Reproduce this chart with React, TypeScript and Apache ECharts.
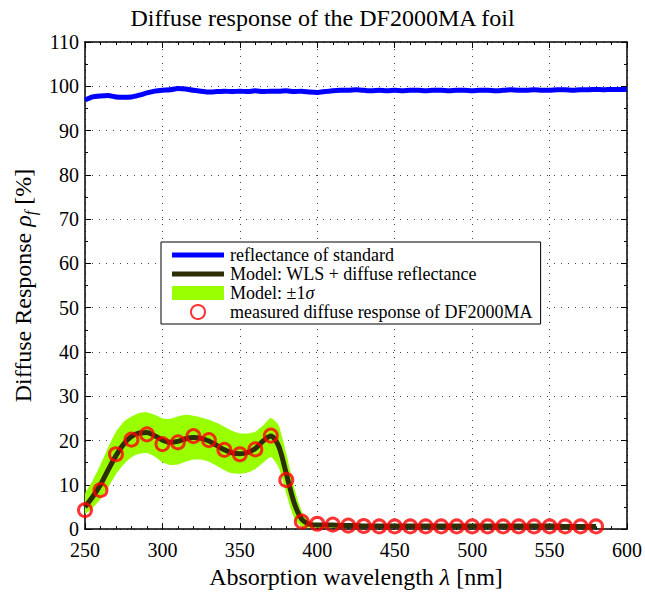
import React, { useEffect, useRef } from "react";
import * as echarts from "echarts";

// ---------- data ----------
const titleText = "Diffuse response of the DF2000MA foil";

const xMin = 250;
const xMax = 600;
const xStep = 50;
const yMin = 0;
const yMax = 110;
const yStep = 10;

// reflectance of the standard (blue)
const stdWavelength = [
  250, 255, 260, 265, 270, 275, 280, 285, 290, 295, 300, 305, 310, 315, 320, 325, 330, 335,
  340, 345, 350, 355, 360, 365, 370, 375, 380, 385, 390, 395, 400, 405, 410, 415, 420, 425,
  430, 435, 440, 445, 450, 455, 460, 465, 470, 475, 480, 485, 490, 495, 500, 505, 510, 515,
  520, 525, 530, 535, 540, 545, 550, 555, 560, 565, 570, 575, 580, 585, 590, 595, 600,
];
const stdReflectance = [
  96.9, 97.6, 97.8, 97.9, 97.6, 97.5, 97.6, 98.0, 98.5, 98.9, 99.1, 99.2, 99.5, 99.4, 99.1, 98.9, 98.7, 98.8,
  98.9, 98.8, 98.9, 98.8, 99.0, 98.8, 98.9, 98.9, 99.0, 98.8, 98.9, 98.7, 98.6, 98.8, 99.0, 99.1, 99.1, 99.2,
  99.1, 99.0, 99.1, 99.0, 99.1, 99.0, 99.1, 99.1, 99.0, 99.1, 99.1, 99.0, 99.1, 99.1, 99.0, 99.1, 99.1, 99.0,
  99.1, 99.2, 99.1, 99.1, 99.2, 99.1, 99.1, 99.2, 99.2, 99.1, 99.2, 99.2, 99.3, 99.2, 99.3, 99.3, 99.3,
];

// model: WLS + diffuse reflectance, with its +-1 sigma band
const modelWavelength = [
  250, 255, 260, 265, 270, 275, 280, 285, 290, 295, 300, 305, 310, 315, 320, 325, 330, 335,
  340, 345, 350, 355, 360, 365, 370, 375, 380, 385, 390, 395, 400, 405, 410, 415, 420, 425,
  430, 435, 440, 445, 450, 455, 460, 465, 470, 475, 480, 485, 490, 495, 500, 505, 510, 515,
  520, 525, 530, 535, 540, 545, 550, 555, 560, 565, 570, 575, 580,
];
const modelValues = [
  5.0, 7.3, 10.0, 13.4, 16.6, 19.2, 20.9, 21.7, 21.8, 21.1, 20.1, 19.6, 19.8, 20.4, 20.7, 20.5, 19.9, 18.9,
  17.9, 17.2, 17.0, 17.3, 18.2, 19.9, 21.0, 18.8, 12.5, 6.0, 2.2, 1.1, 0.9, 0.9, 0.9, 0.8, 0.8, 0.8,
  0.7, 0.7, 0.7, 0.7, 0.7, 0.7, 0.7, 0.7, 0.7, 0.7, 0.7, 0.7, 0.7, 0.7, 0.7, 0.7, 0.7, 0.7,
  0.7, 0.7, 0.7, 0.7, 0.7, 0.7, 0.7, 0.7, 0.6, 0.6, 0.6, 0.6, 0.6,
];
const bandUpper = [
  7.9, 11.0, 14.6, 18.5, 22.0, 24.2, 25.4, 26.2, 26.4, 25.8, 25.0, 24.9, 25.4, 25.8, 25.6, 25.2, 24.7, 24.0,
  23.1, 22.2, 21.6, 21.6, 22.0, 23.4, 25.1, 23.5, 17.0, 9.5, 4.0, 1.8, 1.4, 1.3, 1.2, 1.2, 1.1, 1.1,
  1.1, 1.1, 1.0, 1.0, 1.0, 1.0, 1.0, 1.0, 1.0, 1.0, 1.0, 1.0, 1.0, 1.0, 1.0, 1.0, 1.0, 1.0,
  1.0, 1.0, 1.0, 1.0, 1.0, 1.0, 1.0, 1.0, 0.9, 0.9, 0.9, 0.9, 0.9,
];
const bandLower = [
  3.5, 4.8, 6.8, 9.4, 12.4, 14.6, 16.2, 17.0, 17.2, 16.4, 15.1, 14.5, 14.6, 15.2, 15.7, 15.7, 15.2, 14.3,
  13.3, 12.6, 12.5, 12.8, 13.6, 15.0, 16.3, 14.0, 8.0, 2.5, 0.5, 0.3, 0.3, 0.3, 0.3, 0.3, 0.3, 0.3,
  0.3, 0.3, 0.3, 0.3, 0.3, 0.3, 0.3, 0.3, 0.3, 0.3, 0.3, 0.3, 0.3, 0.3, 0.3, 0.3, 0.3, 0.3,
  0.3, 0.3, 0.3, 0.3, 0.3, 0.3, 0.3, 0.3, 0.3, 0.3, 0.3, 0.3, 0.3,
];

// measured diffuse response of DF2000MA (red circles)
const measWavelength = [
  250, 260, 270, 280, 290, 300, 310, 320, 330, 340, 350, 360, 370, 380, 390, 400, 410,
  420, 430, 440, 450, 460, 470, 480, 490, 500, 510, 520, 530, 540, 550, 560, 570, 580,
];
const measValues = [
  4.3, 8.8, 16.9, 20.2, 21.4, 19.2, 19.6, 21.0, 20.1, 17.9, 16.9, 18.0, 21.1, 11.1, 1.7, 1.2, 1.0,
  0.8, 0.7, 0.6, 0.6, 0.6, 0.6, 0.6, 0.6, 0.6, 0.6, 0.6, 0.6, 0.6, 0.6, 0.6, 0.6, 0.6,
];

const seriesNames = [
  "reflectance of standard",
  "Model: WLS + diffuse reflectance",
  "Model: ±1σ",
  "measured diffuse response of DF2000MA",
];

const colors = {
  std: "#0000ff",
  model: "#2e2e06",
  band: "#99ff00",
  meas: "#ff0000",
};

const FONT = "'Liberation Serif', 'Times New Roman', serif";

function pairs(xs: number[], ys: number[]) {
  return xs.map((x, i) => [x, ys[i]]);
}

export default function App() {
  const ref = useRef<HTMLDivElement>(null);

  useEffect(() => {
    if (!ref.current) return;
    const chart = echarts.init(ref.current, null, { renderer: "svg" });

    const gridDots = { color: "#444", width: 1, type: [1, 6] as any };

    const baseX = {
      type: "value" as const,
      min: xMin,
      max: xMax,
      interval: xStep,
    };
    const baseY = {
      type: "value" as const,
      min: yMin,
      max: yMax,
      interval: yStep,
    };

    const option: any = {
      animation: false,
      backgroundColor: "#ffffff",
      title: {
        text: titleText,
        left: "center",
        top: 1,
        textStyle: { fontFamily: FONT, fontSize: 24, fontWeight: "normal", color: "#000" },
      },
      grid: { left: 83, right: 16, top: 42, bottom: 63 },
      legend: {
        orient: "vertical",
        left: 161,
        top: 242,
        data: [
          { name: seriesNames[0], icon: "path://M0,0H52V5H0Z", itemStyle: { color: colors.std, borderWidth: 0 } },
          { name: seriesNames[1], icon: "path://M0,0H52V5H0Z", itemStyle: { color: colors.model, borderWidth: 0 } },
          { name: seriesNames[2], icon: "rect", itemStyle: { color: colors.band, borderWidth: 0 } },
          { name: seriesNames[3], icon: "emptyCircle", itemStyle: { color: colors.meas } },
        ],
        itemWidth: 52,
        itemHeight: 14,
        itemGap: 1,
        padding: [4, 8, 3, 11],
        borderColor: "#000",
        borderWidth: 1,
        backgroundColor: "#fff",
        selectedMode: false,
        textStyle: {
          fontFamily: FONT,
          fontSize: 18,
          color: "#000",
          padding: [0, 0, 0, 1],
          rich: {
            i: { fontFamily: FONT, fontSize: 18, fontStyle: "italic", color: "#000" },
          },
        },
        formatter: (name: string) =>
          name === seriesNames[2] ? "Model: ±1{i|σ}" : name,
      },
      xAxis: [
        {
          ...baseX,
          position: "bottom",
          name: "Absorption wavelength {i|λ} [nm]",
          nameLocation: "middle",
          nameGap: 29,
          nameTextStyle: {
            fontFamily: FONT,
            fontSize: 24,
            color: "#000",
            rich: { i: { fontFamily: FONT, fontSize: 24, fontStyle: "italic", color: "#000" } },
          },
          axisLine: { show: true, onZero: false, lineStyle: { color: "#000", width: 1.5 } },
          axisTick: { show: true, inside: true, length: 6, lineStyle: { color: "#000" } },
          minorTick: { show: true, splitNumber: 5, length: 3, lineStyle: { color: "#000" } },
          axisLabel: { fontFamily: FONT, fontSize: 20, color: "#000", margin: 11 },
          splitLine: { show: true, lineStyle: gridDots },
        },
        {
          ...baseX,
          position: "top",
          axisLine: { show: true, onZero: false, lineStyle: { color: "#000", width: 1.5 } },
          axisTick: { show: true, inside: true, length: 6, lineStyle: { color: "#000" } },
          minorTick: { show: true, splitNumber: 5, length: 3, lineStyle: { color: "#000" } },
          axisLabel: { show: false },
          splitLine: { show: false },
        },
      ],
      yAxis: [
        {
          ...baseY,
          position: "left",
          name: "Diffuse Response {i|ρ}{s|f} [%]",
          nameLocation: "middle",
          nameRotate: 90,
          nameGap: 47,
          nameTextStyle: {
            fontFamily: FONT,
            fontSize: 24,
            color: "#000",
            lineHeight: 30,
            rich: {
              i: { fontFamily: FONT, fontSize: 24, fontStyle: "italic", color: "#000", lineHeight: 30 },
              s: { fontFamily: FONT, fontSize: 16, fontStyle: "italic", color: "#000", verticalAlign: "bottom", lineHeight: 16 },
            },
          },
          axisLine: { show: true, onZero: false, lineStyle: { color: "#000", width: 1.5 } },
          axisTick: { show: true, inside: true, length: 6, lineStyle: { color: "#000" } },
          minorTick: { show: true, splitNumber: 2, length: 3, lineStyle: { color: "#000" } },
          axisLabel: { fontFamily: FONT, fontSize: 20, color: "#000", margin: 6 },
          splitLine: { show: true, lineStyle: gridDots },
        },
        {
          ...baseY,
          position: "right",
          axisLine: { show: true, onZero: false, lineStyle: { color: "#000", width: 1.5 } },
          axisTick: { show: true, inside: true, length: 6, lineStyle: { color: "#000" } },
          minorTick: { show: true, splitNumber: 2, length: 3, lineStyle: { color: "#000" } },
          axisLabel: { show: false },
          splitLine: { show: false },
        },
      ],
      series: [
        {
          name: seriesNames[2],
          type: "custom",
          data: [[xMin, yMin]],
          encode: { x: 0, y: 1 },
          clip: true,
          silent: true,
          itemStyle: { color: colors.band },
          renderItem: (_params: any, api: any) => {
            const top = modelWavelength.map((x, i) => api.coord([x, bandUpper[i]]));
            const bottom = modelWavelength
              .map((x, i) => api.coord([x, bandLower[i]]))
              .reverse();
            return {
              type: "polygon",
              shape: { points: top.concat(bottom), smooth: 0.2 },
              style: { fill: colors.band, stroke: "none" },
            };
          },
          z: 2,
        },
        {
          name: seriesNames[0],
          type: "line",
          data: pairs(stdWavelength, stdReflectance),
          showSymbol: false,
          smooth: 0.2,
          lineStyle: { color: colors.std, width: 5 },
          itemStyle: { color: colors.std },
          z: 3,
        },
        {
          name: seriesNames[1],
          type: "line",
          data: pairs(modelWavelength, modelValues),
          showSymbol: false,
          smooth: 0.3,
          lineStyle: { color: colors.model, width: 5 },
          itemStyle: { color: colors.model },
          z: 4,
        },
        {
          name: seriesNames[3],
          type: "scatter",
          data: pairs(measWavelength, measValues),
          symbol: "circle",
          symbolSize: 13,
          itemStyle: { color: "rgba(0,0,0,0)", borderColor: colors.meas, borderWidth: 3 },
          z: 5,
        },
      ],
    };

    chart.setOption(option);
    return () => chart.dispose();
  }, []);

  return (
    <div
      ref={ref}
      style={{ position: "absolute", left: 0, top: 0, width: 645, height: 594, background: "#fff" }}
    />
  );
}
